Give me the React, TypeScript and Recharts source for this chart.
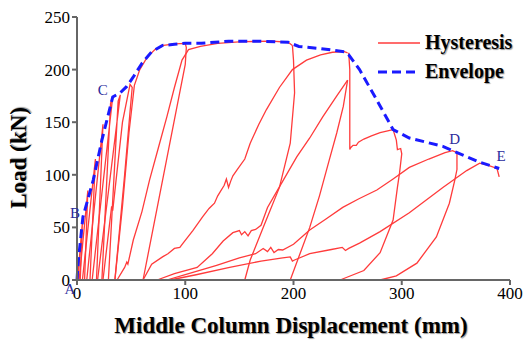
import { LabelList, Line, LineChart, XAxis, YAxis } from "recharts";

type Pt = [number, number];

// displacement (mm), load (kN)
const envelopeX = [0, 1, 5.5, 15, 23, 33, 40, 46, 52, 60, 69, 79, 90, 100, 115, 140, 170, 195, 205, 225, 247, 251, 261, 277, 292, 307, 338, 347, 372, 390];
const envelopeY = [0, 16, 60, 95, 133, 174, 178, 184, 193, 206, 217, 223, 224, 225, 225, 227, 227, 226, 222, 220, 217, 214, 200, 171, 143, 135, 127, 123, 112, 106];
const envelopeTags = ["A", "", "B", "", "", "C", "", "", "", "", "", "", "", "", "", "", "", "", "", "", "", "", "", "", "", "", "", "D", "", "E"];

const smallLoops: Pt[][] = [
  [[0, 0], [2, 18], [1, 0]],
  [[0.5, 0], [5, 55], [3, 0]],
  [[2, 0], [10, 85], [7, 0]],
  [[5, 0], [17, 115], [12, 0]],
  [[9, 0], [24, 148], [18, 0]],
  [[14, 0], [33, 174], [31, 168], [23, 0]],
  [[19, 0], [40, 176], [38, 170], [29, 0]],
  [[24, 0], [32, 70], [33, 66], [42, 150], [49, 186], [51, 183], [49, 160], [44, 100], [35, 0]],
];

const loop100: Pt[] = [
  [35, 0], [42, 70], [48, 140], [53, 185], [58, 200], [65, 212], [72, 219], [80, 223], [90, 224.5], [100, 225],
  [101, 221], [100, 205], [61, 0],
];

const reload200: Pt[] = [
  [37, 0], [44, 12], [46, 17], [47, 15], [52, 38], [60, 65], [67, 95], [75, 125], [83, 155], [90, 183], [97, 209],
  [103, 219], [114, 222], [130, 225], [153, 226.5], [180, 227], [195, 226], [199, 223],
];
const unload200: Pt[] = [[199, 223], [200, 209], [201, 178], [197, 130], [187, 88], [172, 50], [160, 19], [155, 0]];

const reload250: Pt[] = [
  [61, 0], [69, 15], [79, 22], [84, 25], [90, 30], [95, 31], [98, 35], [107, 47], [116, 60], [122, 68], [127, 73],
  [130, 80], [136, 90], [138, 96], [140, 88], [142, 94], [144, 99], [148, 105], [155, 115], [160, 130], [168, 148],
  [175, 162], [187, 183], [199, 200], [212, 209], [225, 214], [236, 216.5], [247, 217], [250, 216],
];
const post250: Pt[] = [
  [251, 216], [252, 200], [252, 160], [252, 124], [253, 126], [255, 128], [258, 128], [260, 131], [265, 134],
  [272, 137], [280, 140], [288, 142], [292, 143], [295, 133], [296, 124], [299, 125], [300, 120], [298, 102],
  [296, 88], [292, 57], [280, 26], [265, 9], [243, 0],
];

const reloadMid: Pt[] = [
  [74, 0], [90, 6], [111, 12], [125, 25], [135, 37], [144, 45], [150, 47], [152, 43], [155, 46], [158, 42],
  [161, 47], [165, 48], [170, 52], [176, 69], [185, 85], [203, 117], [215, 135], [227, 155], [240, 175], [250, 190],
];
const unloadMid: Pt[] = [[250, 190], [246, 165], [240, 140], [233, 114], [224, 80], [215, 50], [206, 25], [197, 0]];

const reloadD: Pt[] = [
  [83, 0], [100, 5], [129, 14], [150, 21], [165, 25], [172, 30], [176, 27], [179, 31], [182, 26], [186, 29],
  [190, 28.5], [200, 34], [215, 47.5], [230, 58], [245.5, 69], [260, 77], [277, 85.5], [292, 96], [307, 107],
  [325, 115], [340, 121], [347, 123], [351, 121], [351, 105], [349, 95], [344, 73], [332, 41], [314, 16], [295, 4], [280, 0],
];

const reloadE: Pt[] = [
  [86, 0], [110, 5], [141, 12], [170, 18], [190, 21], [197, 22], [199, 18], [201, 19], [215, 25], [235, 29],
  [245, 31], [248, 28], [251, 30], [261, 35], [280, 46], [307, 64], [338, 88], [360, 104], [372, 111], [380, 109],
  [388, 106], [390, 98],
];

const hysteresis: Pt[][] = [
  ...smallLoops, loop100, reload200, unload200, reload250, post250, reloadMid, unloadMid, reloadD, reloadE,
];

const xTicks = [0, 100, 200, 300, 400];
const yTicks = [0, 50, 100, 150, 200, 250];

const RED = "#ff3b3b";
const BLUE = "#1a1aff";
const SERIF = "'Liberation Serif', 'Times New Roman', serif";
const titleStyle = { fill: "#000", fontFamily: SERIF, fontSize: 23, fontWeight: 700 };

const tagOffset: Record<string, [number, number]> = {
  A: [-7, 11],
  B: [-8, -2],
  C: [-10, -5],
  D: [2, -10],
  E: [2, -11],
};

const envelope = envelopeX.map((x, i) => ({ x, y: envelopeY[i], tag: envelopeTags[i] }));

function TagLabel(props: any) {
  const { x, y, value } = props;
  if (!value) return null;
  const [dx, dy] = tagOffset[value] ?? [0, 0];
  return (
    <text x={x + dx} y={y + dy} textAnchor="middle" dominantBaseline="middle" fill="#2b2b9c" fontFamily={SERIF} fontSize={15}>
      {value}
    </text>
  );
}

function LegendBox() {
  const row = { display: "flex", alignItems: "center", height: 29 } as const;
  const text = { fontFamily: SERIF, fontWeight: 700, fontSize: 20, color: "#000", marginLeft: 5, textShadow: "1px 1px 1px #999" };
  return (
    <div style={{ position: "absolute", left: 378, top: 28 }}>
      <div style={row}>
        <svg width={42} height={6}>
          <line x1={0} y1={3} x2={42} y2={3} stroke={RED} strokeWidth={1.5} />
        </svg>
        <span style={text}>Hysteresis</span>
      </div>
      <div style={row}>
        <svg width={42} height={6}>
          <line x1={0} y1={3} x2={42} y2={3} stroke={BLUE} strokeWidth={3} strokeDasharray="9 5" />
        </svg>
        <span style={text}>Envelope</span>
      </div>
    </div>
  );
}

export default function App() {
  return (
    <div style={{ position: "fixed", left: 0, top: 0, width: 528, height: 344, background: "#fff" }}>
      <LineChart width={528} height={344} margin={{ top: 17, right: 18, left: 0, bottom: 0 }}>
        <XAxis
          type="number"
          dataKey="x"
          domain={[0, 400]}
          ticks={xTicks}
          height={64}
          tickSize={5}
          stroke="#666"
          strokeWidth={2}
          tick={{ fill: "#000", fontFamily: SERIF, fontSize: 17 }}
          label={{
            content: () => (
              <text x={291} y={333} textAnchor="middle" style={{ textShadow: "1px 1px 1px #999" }} {...titleStyle}>
                Middle Column Displacement (mm)
              </text>
            ),
          }}
        />
        <YAxis
          type="number"
          domain={[0, 250]}
          ticks={yTicks}
          width={77}
          tickSize={5}
          stroke="#666"
          strokeWidth={2}
          tick={{ fill: "#000", fontFamily: SERIF, fontSize: 17 }}
          label={{
            content: () => (
              <text x={0} y={0} transform="translate(26 158) rotate(-90)" textAnchor="middle" style={{ textShadow: "1px 1px 1px #999" }} {...titleStyle}>
                Load (kN)
              </text>
            ),
          }}
        />
        {hysteresis.map((branch, i) => (
          <Line
            key={i}
            data={branch.map(([x, y]) => ({ x, y }))}
            dataKey="y"
            type="linear"
            stroke={RED}
            strokeWidth={1.3}
            dot={false}
            activeDot={false}
            legendType="none"
            isAnimationActive={false}
          />
        ))}
        <Line
          data={envelope}
          dataKey="y"
          type="linear"
          stroke={BLUE}
          strokeWidth={3}
          strokeDasharray="9 5"
          dot={false}
          activeDot={false}
          isAnimationActive={false}
        >
          <LabelList dataKey="tag" content={TagLabel} />
        </Line>
      </LineChart>
      <LegendBox />
    </div>
  );
}
